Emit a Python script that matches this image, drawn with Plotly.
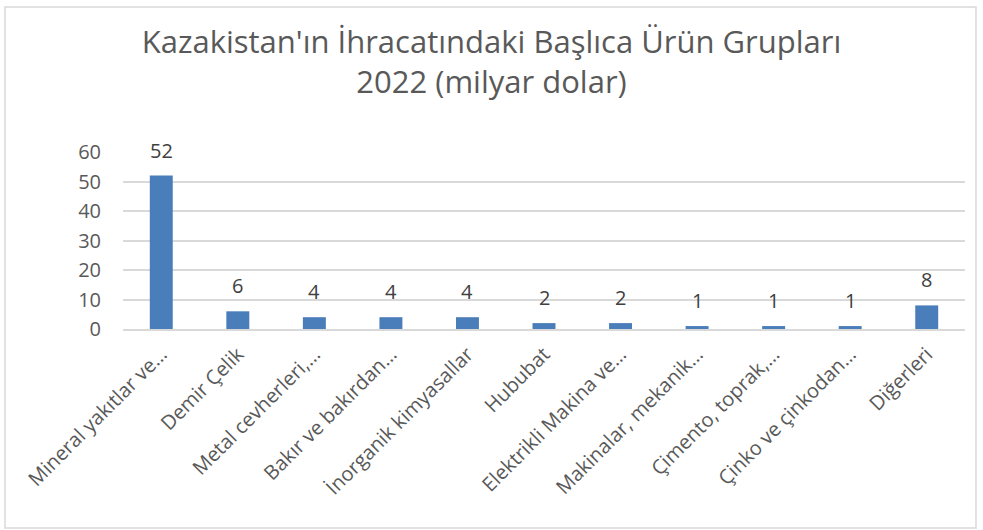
import plotly.graph_objects as go

categories = ["Mineral yakıtlar ve…", "Demir Çelik", "Metal cevherleri,…", "Bakır ve bakırdan…",
              "İnorganik kimyasallar", "Hububat", "Elektrikli Makina ve…", "Makinalar, mekanik…",
              "Çimento, toprak,…", "Çinko ve çinkodan…", "Diğerleri"]
values = [52, 6, 4, 4, 4, 2, 2, 1, 1, 1, 8]
y_ticks = [0, 10, 20, 30, 40, 50, 60]

W, H = 983, 530
L, R, T, B = 123, 18, 152, 201
pw, ph = W - L - R, H - T - B

def px(x):
    return (x - L) / pw

def py(y):
    return (H - B - y) / ph

fig = go.Figure(go.Bar(
    x=categories, y=values, marker=dict(color="#4A7EBB", line=dict(width=0)),
))

for c, v in zip(categories, values):
    fig.add_annotation(x=c, y=v, text=str(v), showarrow=False, yanchor="bottom", yshift=10,
                       font=dict(family="Open Sans", size=20, color="#404040"))

fig.update_layout(
    width=W, height=H,
    margin=dict(l=L, r=R, t=T, b=B),
    paper_bgcolor="white", plot_bgcolor="white",
    bargap=0.7, showlegend=False,
    title=dict(text="Kazakistan'ın İhracatındaki Başlıca Ürün Grupları<br>2022 (milyar dolar)",
               x=0.5, xanchor="center", y=(H - 53) / H, yanchor="middle",
               font=dict(family="Open Sans", size=31, color="#595959")),
    shapes=[dict(type="rect", xref="paper", yref="paper",
                 x0=px(5), x1=px(976), y0=py(528), y1=py(7),
                 line=dict(color="#D9D9D9", width=1.5), fillcolor="rgba(0,0,0,0)", layer="below")],
)
fig.update_xaxes(tickangle=-45, tickfont=dict(family="Open Sans", size=20, color="#595959"),
                 showline=True, linecolor="#D9D9D9", linewidth=1.5, ticks="outside", ticklen=4,
                 tickcolor="rgba(0,0,0,0)", showgrid=False)
fig.update_yaxes(range=[0, 60], tickvals=y_ticks, showgrid=True, gridcolor="#D9D9D9", gridwidth=1.5,
                 zeroline=False, tickfont=dict(family="Open Sans", size=20, color="#595959"),
                 ticks="outside", ticklen=17, tickcolor="rgba(0,0,0,0)")

fig.write_html("out.html", config={"displayModeBar": False},
               post_script="document.body.style.margin='0px';")
